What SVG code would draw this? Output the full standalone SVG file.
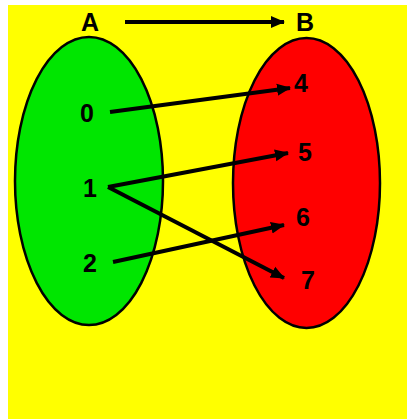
<svg xmlns="http://www.w3.org/2000/svg" width="407" height="419" viewBox="0 0 407 419">
<style>
.lbl{font-family:"Liberation Sans",Arial,sans-serif;font-weight:bold;font-size:25px;text-anchor:middle;fill:#000}
.set{stroke:#000;stroke-width:2.5}
.edge{stroke:#000;stroke-width:4;fill:none;marker-end:url(#ah)}
</style>
<defs>
<marker id="ah" markerUnits="userSpaceOnUse" markerWidth="14" markerHeight="14" viewBox="0 0 14 14" refX="13" refY="7" orient="auto">
<path d="M0,1 L14,7 L0,13 Z" fill="#000"/>
</marker>
</defs>
<rect x="0" y="0" width="407" height="419" fill="#fff"/>
<rect x="8" y="5" width="399" height="414" fill="#ffff00"/>
<g id="setA">
<ellipse class="set" cx="89" cy="181" rx="74" ry="144" fill="#00e600"/>
<text class="lbl" x="90" y="31" font-size="26">A</text>
</g>
<g id="setB">
<ellipse class="set" cx="306.5" cy="183" rx="73.5" ry="145" fill="#ff0000"/>
<text class="lbl" x="305" y="31" font-size="26">B</text>
</g>
<g id="n0"><text class="lbl" x="87" y="122">0</text></g>
<g id="n1"><text class="lbl" x="90" y="197">1</text></g>
<g id="n2"><text class="lbl" x="90" y="272">2</text></g>
<g id="n4"><text class="lbl" x="301" y="92">4</text></g>
<g id="n5"><text class="lbl" x="305" y="161">5</text></g>
<g id="n6"><text class="lbl" x="303" y="226">6</text></g>
<g id="n7"><text class="lbl" x="308" y="289">7</text></g>
<g id="connectors">
<line class="edge" x1="125" y1="22" x2="284" y2="22"/>
<line class="edge" x1="110" y1="112" x2="290" y2="88"/>
<line class="edge" x1="108" y1="187" x2="288" y2="153"/>
<line class="edge" x1="108" y1="187" x2="284" y2="278"/>
<line class="edge" x1="113" y1="262" x2="284" y2="225"/>
</g>
</svg>
